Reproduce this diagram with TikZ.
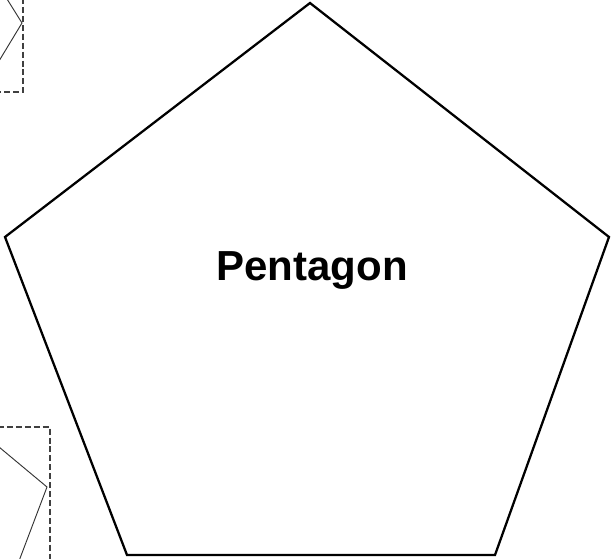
\documentclass[tikz,border=0pt]{standalone}
\usepackage{fontspec}
\setmainfont{Liberation Sans}
\begin{document}
\begin{tikzpicture}[x=0.75pt,y=-0.75pt,
    shapeline/.style={black,line width=1.7pt,line join=miter},
    thinline/.style={black!80,line width=0.7pt},
    frame/.style={black!75,line width=2pt,dash pattern=on 4.5pt off 2.2pt},
    title/.style={font=\fontsize{31.5}{36}\selectfont\bfseries,anchor=base}]
    \useasboundingbox (0,0) rectangle (611,559);

    % >>> pentagon
    \coordinate (top) at (310,3);
    \coordinate (right) at (609,237);
    \coordinate (bright) at (495,555);
    \coordinate (bleft) at (127,555);
    \coordinate (left) at (5,237);
    \draw[shapeline] (top) -- (right) -- (bright) -- (bleft) -- (left) -- cycle;
    \node[title] (label) at (312,281) {Pentagon};
    % <<< pentagon

    % >>> top left box
    \coordinate (tlA) at (7,-1);
    \coordinate (tlB) at (22,23);
    \coordinate (tlC) at (-1,61);
    \draw[thinline] (tlA) -- (tlB) -- (tlC);
    \draw[frame] (23,-2) -- (23,92) -- (-2,92);
    % <<< top left box

    % >>> bottom left box
    \coordinate (blA) at (-1,447);
    \coordinate (blB) at (47,487);
    \coordinate (blC) at (19,561);
    \draw[thinline] (blA) -- (blB) -- (blC);
    \draw[frame] (-2,427) -- (50,427) -- (50,561);
    % <<< bottom left box
\end{tikzpicture}
\end{document}
